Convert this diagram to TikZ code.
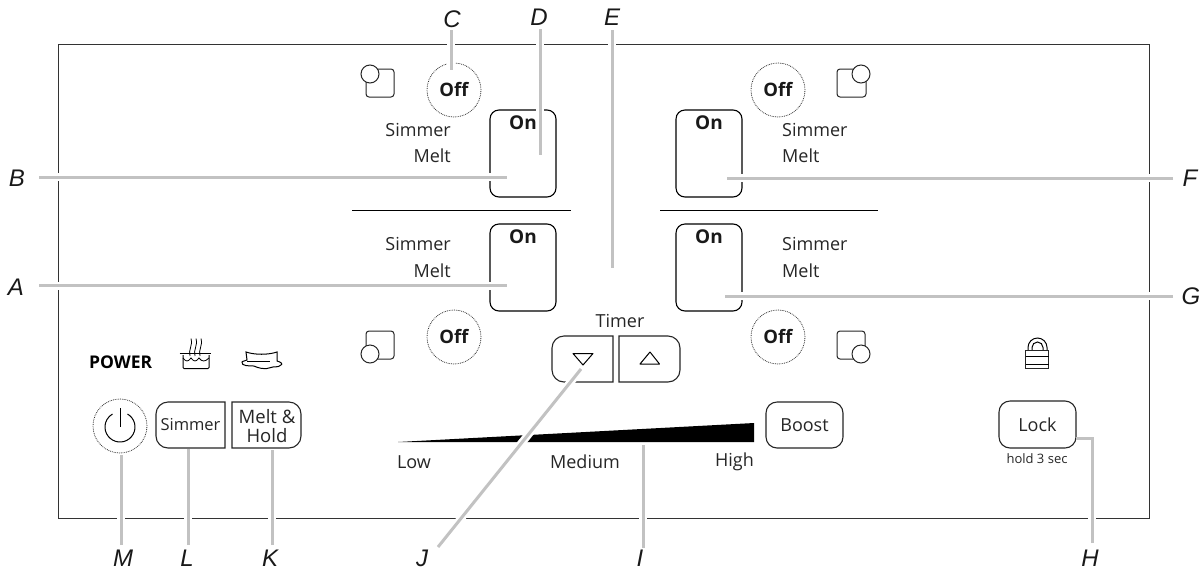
\documentclass[tikz,border=0pt]{standalone}
\usepackage{fontspec}
\setmainfont{Open Sans}
\newfontfamily\lblfont{Liberation Sans}
\tikzset{
  x=1pt,y=-1pt,
  panel/.style={draw=black!80,line width=1pt},
  onbtn/.style={draw=black,line width=1.1pt,fill=white,rounded corners=9pt},
  keybtn/.style={draw=black!85,line width=1.1pt,fill=white,rounded corners=11pt},
  keyedge/.style={draw=black!85,line width=1.1pt},
  ontext/.style={inner sep=0pt,font=\fontsize{19}{19}\selectfont\bfseries,text=black!90},
  offring/.style={circle,draw=black!80,densely dotted,line width=0.8pt,minimum size=54pt,inner sep=0pt,font=\fontsize{18.5}{18.5}\selectfont\bfseries,text=black!90},
  icon/.style={draw=black!85,line width=1pt,fill=white},
  caption/.style={inner sep=0pt,font=\fontsize{18}{18}\selectfont,text=black!85},
  letter/.style={inner sep=0pt,font=\fontsize{24}{24}\lblfont\itshape,text=black!90},
  halo/.style={draw=white,line width=8pt},
  lead/.style={draw=black!24,line width=3pt},
}
\begin{document}
\begin{tikzpicture}
\useasboundingbox (0,0) rectangle (1201,571);
\fill[white] (0,0) rectangle (1201,571);
\draw[panel] (58,44) rectangle (1149.5,518);
% dividers
\draw[line width=1pt] (352,210) -- (571,210);
\draw[line width=1pt] (660,210) -- (878,210);
% On buttons
\foreach \n/\xa/\ya in {ontl/490/110,onbl/490/224,ontr/676/110,onbr/676/224}{
  \draw[onbtn] (\xa,\ya) rectangle ++(66,87);
  \node[ontext] (\n) at (\xa+33,\ya+13) {On};
}
% Off rings
\node[offring] (offtl) at (454,90) {Off};
\node[offring] (offbl) at (454,337) {Off};
\node[offring] (offtr) at (778,90) {Off};
\node[offring] (offbr) at (778,337) {Off};
% burner icons
\draw[icon,rounded corners=3pt] (366,69) rectangle (394,97);
\draw[icon] (370,74) circle (9);
\draw[icon,rounded corners=3pt] (366,331) rectangle (394,359);
\draw[icon] (370,354) circle (9);
\draw[icon,rounded corners=3pt] (837,69) rectangle (866,97);
\draw[icon] (861,74) circle (9);
\draw[icon,rounded corners=3pt] (837,331) rectangle (865,359);
\draw[icon] (861,354) circle (9);
% Simmer / Melt captions
\node[caption,anchor=east] (s1) at (451,130) {Simmer};
\node[caption,anchor=east] (m1) at (451,156) {Melt};
\node[caption,anchor=east] (s2) at (451,244) {Simmer};
\node[caption,anchor=east] (m2) at (451,271) {Melt};
\node[caption,anchor=west] (s3) at (782,130) {Simmer};
\node[caption,anchor=west] (m3) at (782,156) {Melt};
\node[caption,anchor=west] (s4) at (782,244) {Simmer};
\node[caption,anchor=west] (m4) at (782,271) {Melt};
% Timer
\node[caption] (timer) at (620,321) {Timer};
\draw[keyedge] (613,336) -- (613,382) -- (564,382) arc[start angle=90,end angle=180,radius=12] -- (552,348) arc[start angle=180,end angle=270,radius=12] -- cycle;
\draw[keyedge] (619,336) -- (619,382) -- (668,382) arc[start angle=90,end angle=0,radius=12] -- (680,348) arc[start angle=0,end angle=-90,radius=12] -- cycle;
\draw[line width=1pt,line join=round] (573,353.5) -- (593,353.5) -- (583,365) -- cycle;
\draw[line width=1pt,line join=round] (640,364) -- (659.5,364) -- (650,352) -- cycle;
% intensity wedge
\fill[black] (398,442) -- (754,423) -- (754,442) -- cycle;
\node[caption] (low) at (414,462) {Low};
\node[caption] (medium) at (585,462) {Medium};
\node[caption,anchor=east] (high) at (754,462) {High};
% Boost
\draw[keybtn] (766,402) rectangle (843,448);
\node[caption] (boost) at (804.5,425) {Boost};
% Lock
\draw[keybtn] (999,401) rectangle (1076,448);
\node[caption] (lock) at (1037.5,424.5) {Lock};
\node[inner sep=0pt,font=\fontsize{13}{13}\selectfont,text=black!85] (hold) at (1037,459) {hold 3 sec};
% lock icon
\draw[line width=1pt] (1028,350) -- (1028,347.5) arc[start angle=180,end angle=360,radius=9.5] -- (1047,350);
\draw[line width=1pt] (1032,350) -- (1032,347.5) arc[start angle=180,end angle=360,radius=5.5] -- (1043,350);
\draw[icon] (1025.5,350) rectangle (1048.5,368.5);
\draw[line width=1pt] (1025.5,356) -- (1048.5,356) (1025.5,364) -- (1048.5,364);
% POWER row
\node[inner sep=0pt,anchor=west,font=\fontsize{17.5}{17.5}\selectfont\bfseries] (power) at (89,362.5) {POWER};
\node[circle,draw=black!80,densely dotted,line width=0.8pt,minimum size=54pt,inner sep=0pt] (pwr) at (120,426) {};
\draw[line width=1pt] (127.5,414) arc[start angle=-60,end angle=240,radius=15];
\draw[line width=1pt] (120,408) -- (120,427);
% Simmer and Melt keys
\draw[keyedge] (225,402) -- (225,448) -- (168,448) arc[start angle=90,end angle=180,radius=12] -- (156,414) arc[start angle=180,end angle=270,radius=12] -- cycle;
\node[inner sep=0pt,font=\fontsize{16.5}{16.5}\selectfont,text=black!85] (simkey) at (190.5,425) {Simmer};
\draw[keyedge] (232,402) -- (232,448) -- (289,448) arc[start angle=90,end angle=0,radius=12] -- (301,414) arc[start angle=0,end angle=-90,radius=12] -- cycle;
\node[inner sep=0pt,align=center,font=\fontsize{18.5}{19}\selectfont,text=black!85] (meltkey) at (267,426) {Melt \&\\Hold};
% pot icon
\draw[line width=1pt,rounded corners=1pt] (183,355) -- (183,368.5) -- (209,368.5) -- (209,355);
\draw[line width=1pt] (179.5,353) -- (210.5,353);
\draw[line width=0.8pt] (183,358) .. controls (186,362) and (188,362) .. (191,358) .. controls (194,362) and (196,362) .. (199,358) .. controls (202,362) and (205,362) .. (209,358);
\foreach \dx in {0,5,10}{
  \draw[line width=0.8pt] (190+\dx,356) .. controls (188+\dx,350) and (193+\dx,346) .. (191+\dx,338.5);
}
% melt icon
\draw[line width=1pt,fill=white] (246,352) .. controls (255,355) and (268,355) .. (277,352) -- (277,361) .. controls (281,362) and (283,364) .. (281,365) .. controls (278,368) and (274,366) .. (271,367.5) .. controls (265,370) and (258,368) .. (254,366) .. controls (249,366) and (241,366) .. (242,362) .. controls (242,361) and (246,361) .. (247,360) -- cycle;
\draw[line width=0.8pt] (247,361) -- (270,361);
% letters
\node[letter] (A) at (16,287) {A};
\node[letter] (B) at (17,178) {B};
\node[letter] (C) at (452,19) {C};
\node[letter] (D) at (539,17) {D};
\node[letter] (E) at (612,17) {E};
\node[letter] (F) at (1190,178) {F};
\node[letter] (G) at (1191,296) {G};
\node[letter] (H) at (1090,558) {H};
\node[letter] (I) at (640,558) {I};
\node[letter] (J) at (422,558) {J};
\node[letter] (K) at (270,558) {K};
\node[letter] (L) at (187,558) {L};
\node[letter] (M) at (123,558) {M};
\coordinate (Aa) at (39,285.5);  \coordinate (Ab) at (507,285.5);
\coordinate (Ba) at (39,177);  \coordinate (Bb) at (507,177);
\coordinate (Ca) at (451,30);  \coordinate (Cb) at (451,70);
\coordinate (Da) at (540,29);  \coordinate (Db) at (540,155);
\coordinate (Ea) at (612,30);  \coordinate (Eb) at (612,268);
\coordinate (Fa) at (1173,178); \coordinate (Fb) at (727,178);
\coordinate (Ga) at (1173,296); \coordinate (Gb) at (725,296);
\coordinate (Ha) at (1092,543); \coordinate (Hb) at (1092,438); \coordinate (Hc) at (1076,438);
\coordinate (Ia) at (643,548); \coordinate (Ib) at (643,445);
\coordinate (Ja) at (438,547); \coordinate (Jb) at (581,369);
\coordinate (Ka) at (272,545); \coordinate (Kb) at (272,450);
\coordinate (La) at (188,545); \coordinate (Lb) at (188,449);
\coordinate (Ma) at (121,545); \coordinate (Mb) at (121,455);
\foreach \p/\q in {Aa/Ab,Ba/Bb,Ca/Cb,Da/Db,Ea/Eb,Fa/Fb,Ga/Gb,Ia/Ib,Ja/Jb,Ka/Kb,La/Lb,Ma/Mb}{
  \path[halo] (\p) -- (\q);
  \path[lead] (\p) -- (\q);
}
\path[halo] (Ha) -- (Hb);
\path[lead] (Ha) -- (Hb) -- (Hc);
\end{tikzpicture}
\end{document}
